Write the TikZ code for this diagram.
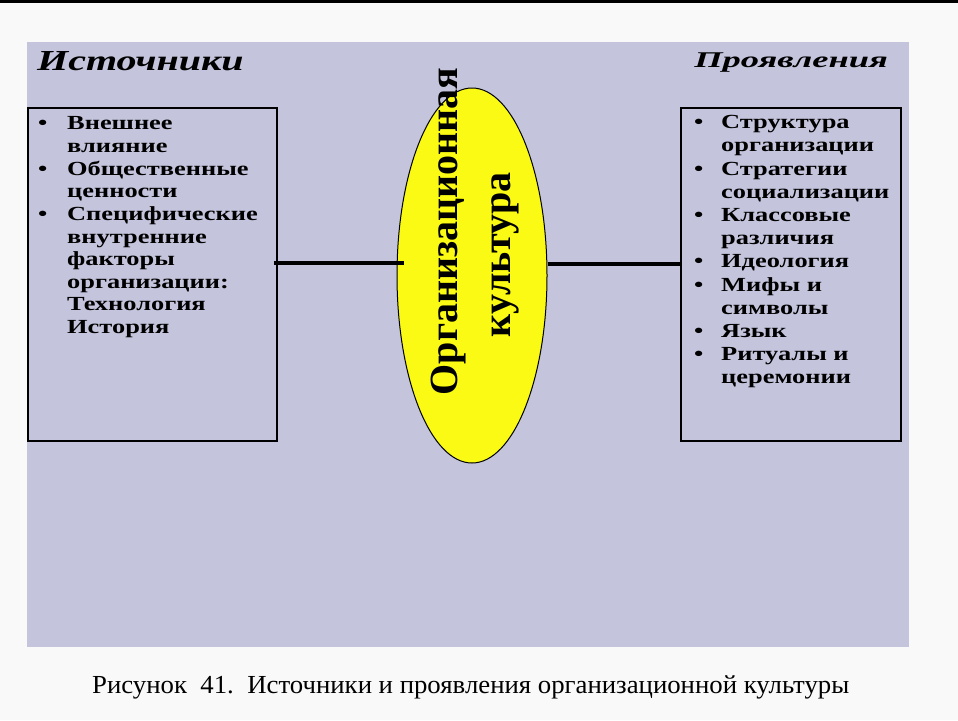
\documentclass[tikz,border=0pt]{standalone}
\usepackage{fontspec}
\setmainfont{Liberation Serif}
\newfontfamily\slidefont[FakeStretch=1.32]{Liberation Serif}
\newfontfamily\srcfont[FakeStretch=1.38]{Liberation Serif}
\newfontfamily\manfont[FakeStretch=1.62]{Liberation Serif}
\newfontfamily\capfont[FakeStretch=1.03]{Liberation Serif}
\usetikzlibrary{shapes.geometric}
\definecolor{panel}{RGB}{196,196,221}
\definecolor{pagebg}{RGB}{249,249,249}
\definecolor{ellfill}{RGB}{250,250,20}
\newcommand{\bul}[1]{\makebox[#1][l]{•}}
\begin{document}
\begin{tikzpicture}[x=1pt,y=-1pt,
  boxnode/.style={draw=black,line width=1.5pt,minimum width=249pt,minimum height=333pt,inner sep=0pt},
  listtext/.style={inner sep=0pt,align=left,anchor=north west},
  titletext/.style={inner sep=0pt},
  conn/.style={draw=black,line width=3.5pt}]
\useasboundingbox (0,0) rectangle (958,720);
\fill[pagebg] (0,0) rectangle (958,720);
\fill[black] (0,0) rectangle (958,3);
\fill[panel] (27,42) rectangle (909,647);

\node[titletext,anchor=base west,font={\srcfont\bfseries\itshape\fontsize{29}{29}\selectfont}] (src) at (37,70) {Источники};
\node[titletext,anchor=base east,font={\manfont\bfseries\itshape\fontsize{22.5}{22.5}\selectfont}] (man) at (888,67.3) {Проявления};

\node[boxnode] (lbox) at (152.5,274.5) {};
\node[boxnode,minimum width=220pt] (rbox) at (791,274.5) {};

\node[listtext,font={\slidefont\bfseries\fontsize{20}{22.6}\selectfont}] (ltext) at (38,116.7) {%
\bul{29pt}Внешнее\\
\hspace*{29pt}влияние\\
\bul{29pt}Общественные\\
\hspace*{29pt}ценности\\
\bul{29pt}Специфические\\
\hspace*{29pt}внутренние\\
\hspace*{29pt}факторы\\
\hspace*{29pt}организации:\\
\hspace*{29pt}Технология\\
\hspace*{29pt}История};

\node[listtext,font={\slidefont\bfseries\fontsize{20}{23.2}\selectfont}] (rtext) at (694,115.2) {%
\bul{27pt}Структура\\
\hspace*{27pt}организации\\
\bul{27pt}Стратегии\\
\hspace*{27pt}социализации\\
\bul{27pt}Классовые\\
\hspace*{27pt}различия\\
\bul{27pt}Идеология\\
\bul{27pt}Мифы и\\
\hspace*{27pt}символы\\
\bul{27pt}Язык\\
\bul{27pt}Ритуалы и\\
\hspace*{27pt}церемонии};

\node[ellipse,draw=black,line width=1pt,fill=ellfill,minimum width=150pt,minimum height=375pt,inner sep=0pt] (ell) at (472,275.5) {};

\node[inner sep=0pt,rotate=90,anchor=base,font={\bfseries\fontsize{40}{40}\selectfont}] (t1) at (457,231.5) {Организационная};
\node[inner sep=0pt,rotate=90,anchor=base,font={\bfseries\fontsize{40}{40}\selectfont}] (t2) at (510,255) {культура};

\draw[conn] ([xshift=-4pt]lbox.east |- 0,263) -- ([xshift=7pt]ell.west |- 0,263);
\draw[conn] (ell.east |- 0,264) -- (rbox.west |- 0,264);

\node[inner sep=0pt,anchor=base west,font={\capfont\fontsize{26}{26}\selectfont}] (cap) at (92,693) {Рисунок\ \ 41.\ \ Источники и проявления организационной культуры};
\end{tikzpicture}
\end{document}
